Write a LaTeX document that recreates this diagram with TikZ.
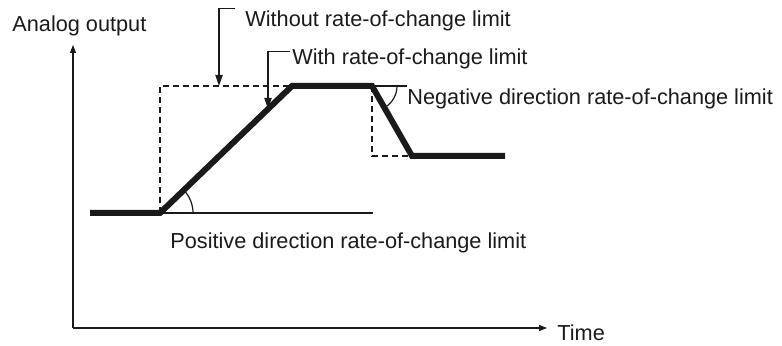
\documentclass[tikz,border=0pt]{standalone}
\usepackage{fontspec}
\setmainfont{Liberation Sans}
\usetikzlibrary{arrows.meta,positioning,calc}
\definecolor{rcInk}{HTML}{1A1A1A}
\tikzset{
  axis/.style    ={-{Triangle[length=4pt,width=3pt]},rcInk,line width=0.6pt},
  signal/.style  ={rcInk,line width=3pt,line join=miter},
  ideal/.style   ={rcInk,line width=0.75pt,dash pattern=on 3pt off 2pt},
  guide/.style   ={rcInk,line width=0.6pt},
  callout/.style ={-{Triangle[length=5.5pt,width=3.6pt]},rcInk,line width=0.6pt},
  lbl/.style     ={font=\fontsize{10.85}{13}\selectfont,text=rcInk,
                   inner sep=0pt,anchor=base west},
}

\begin{document}
\begin{tikzpicture}[x=0.5pt,y=-0.5pt]
\useasboundingbox (0,0) rectangle (782,346);
% axes
\coordinate (O) at (73,328);
\coordinate (ytop) at (73,45);
\coordinate (xend) at (547,328);
\draw[axis] (O) -- (ytop);
\draw[axis] (O) -- (xend);
\node[lbl] (ylab) at (12,32) {Analog output};
\node[lbl] (tlab) at (557,341) {Time};

% corner points of the output
\coordinate (s0) at (90,213);
\coordinate (s1) at (160,213);
\coordinate (s2) at (292,86);
\coordinate (s3) at (372,86);
\coordinate (s4) at (412,156);
\coordinate (s5) at (505,156);

% step without limit
\draw[ideal] (s1) -- (s1 |- s2) -- (s2);
\draw[ideal] (s3) -- (s3 |- s4) -- (s4);

% angle guides
\coordinate (pend) at (373,213);
\coordinate (nend) at (407,86);
\draw[guide] (s1) -- (pend);
\draw[guide] (s3) -- (nend);
\draw[guide] ($(s1)+(33,0)$) arc[start angle=0,end angle=-44,radius=33];
\draw[guide] ($(s3)+(25,0)$) arc[start angle=0,end angle=60,radius=25];

% limited output
\draw[signal] (s0) -- (s1) -- (s2) -- (s3) -- (s4) -- (s5);

% labels
\node[lbl] (wout) at (245,27) {Without rate-of-change limit};
\node[lbl] (with) at (292,65) {With rate-of-change limit};
\node[lbl] (neg)  at (407,105) {Negative direction rate-of-change limit};
\node[lbl] (pos)  at (170,249) {Positive direction rate-of-change limit};

\coordinate (wtip) at (219,86);
\coordinate (ltip) at (268,109);
\draw[callout] ([xshift=-5pt,yshift=1pt]wout.north west) -| (wtip);
\draw[callout] ([xshift=-1pt,yshift=-1.5pt]with.north west) -| (ltip);
\end{tikzpicture}
\end{document}
